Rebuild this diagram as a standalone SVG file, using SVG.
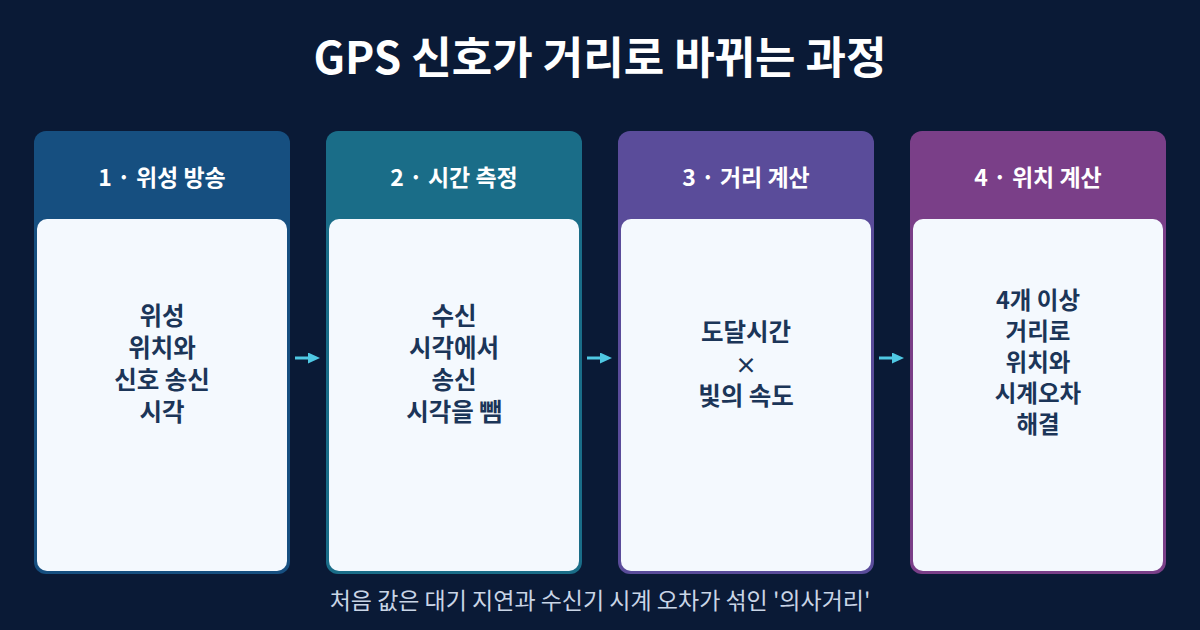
<svg xmlns="http://www.w3.org/2000/svg" width="1200" height="630" viewBox="0 0 1200 630">
<defs>
<marker id="ah" viewBox="0 0 12 11" refX="0" refY="5.5" markerWidth="12" markerHeight="11" markerUnits="userSpaceOnUse" orient="auto">
<path d="M0,0 L12,5.5 L0,11 Z" fill="#4fc8e3"/>
</marker>
<style>
.t{font-family:"Noto Sans CJK KR","Noto Sans",sans-serif;}
.title{font-size:44px;font-weight:700;fill:#ffffff;}
.hd{font-size:23px;font-weight:700;fill:#ffffff;}
.bd{font-size:24.5px;font-weight:700;fill:#1b3558;}
.bd4{font-size:23.5px;}
.x{font-size:22px;}
.ft{font-size:23px;font-weight:400;fill:#c9d5e6;}
.body{fill:#f4f9fe;}
.conn{stroke:#4fc8e3;stroke-width:3;fill:none;}
</style>
</defs>
<rect width="1200" height="630" fill="#0a1a36"/>
<text class="t title" x="600" y="74" text-anchor="middle">GPS 신호가 거리로 바뀌는 과정</text>

<g id="node1">
<rect x="34" y="131" width="256" height="443" rx="12" fill="#164f80"/>
<rect class="body" x="37" y="219" width="250" height="352" rx="10"/>
<text class="t hd" x="162" y="186" text-anchor="middle">1 · 위성 방송</text>
<text class="t bd" x="162" text-anchor="middle"><tspan x="162" y="325">위성</tspan><tspan x="162" y="357">위치와</tspan><tspan x="162" y="389">신호 송신</tspan><tspan x="162" y="421">시각</tspan></text>
</g>

<g id="node2">
<rect x="326" y="131" width="256" height="443" rx="12" fill="#1a6d88"/>
<rect class="body" x="329" y="219" width="250" height="352" rx="10"/>
<text class="t hd" x="454" y="186" text-anchor="middle">2 · 시간 측정</text>
<text class="t bd" x="454" text-anchor="middle"><tspan x="454" y="325">수신</tspan><tspan x="454" y="357">시각에서</tspan><tspan x="454" y="389">송신</tspan><tspan x="454" y="421">시각을 뺌</tspan></text>
</g>

<g id="node3">
<rect x="618" y="131" width="256" height="443" rx="12" fill="#5a4c9a"/>
<rect class="body" x="621" y="219" width="250" height="352" rx="10"/>
<text class="t hd" x="746" y="186" text-anchor="middle">3 · 거리 계산</text>
<text class="t bd" x="746" text-anchor="middle"><tspan x="746" y="341">도달시간</tspan><tspan class="x" x="746" y="373">×</tspan><tspan x="746" y="405">빛의 속도</tspan></text>
</g>

<g id="node4">
<rect x="910" y="131" width="256" height="443" rx="12" fill="#7a3f88"/>
<rect class="body" x="913" y="219" width="250" height="352" rx="10"/>
<text class="t hd" x="1038" y="186" text-anchor="middle">4 · 위치 계산</text>
<text class="t bd bd4" x="1038" text-anchor="middle"><tspan x="1038" y="309">4개 이상</tspan><tspan x="1038" y="340">거리로</tspan><tspan x="1038" y="371">위치와</tspan><tspan x="1038" y="402">시계오차</tspan><tspan x="1038" y="433">해결</tspan></text>
</g>

<g id="connectors">
<line class="conn" x1="295" y1="358" x2="308" y2="358" marker-end="url(#ah)"/>
<line class="conn" x1="587" y1="358" x2="600" y2="358" marker-end="url(#ah)"/>
<line class="conn" x1="879" y1="358" x2="892" y2="358" marker-end="url(#ah)"/>
</g>

<text class="t ft" x="600" y="609" text-anchor="middle">처음 값은 대기 지연과 수신기 시계 오차가 섞인 '의사거리'</text>
</svg>
